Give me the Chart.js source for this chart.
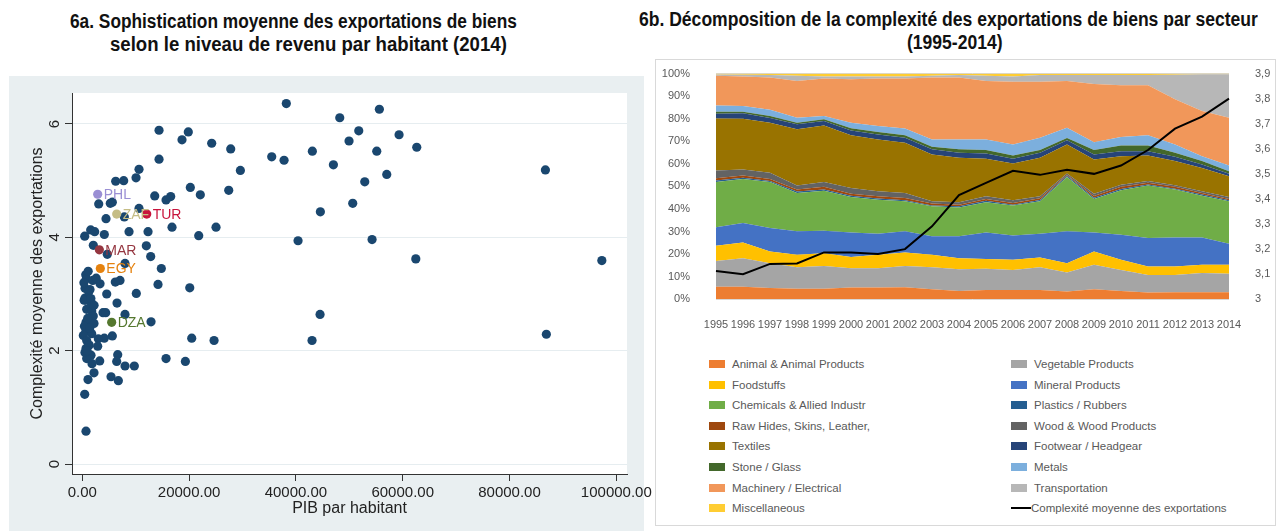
<!DOCTYPE html>
<html>
<head>
<meta charset="utf-8">
<script src="https://cdn.jsdelivr.net/npm/chart.js@4/dist/chart.umd.min.js"></script>
<style>
body{margin:0;width:1276px;height:531px;position:relative;background:#fff;overflow:hidden;font-family:"Liberation Sans",Arial,sans-serif}
.t{position:absolute;white-space:nowrap;font-family:"Liberation Sans Narrow","Arial Narrow","Liberation Sans",Arial,sans-serif;font-weight:bold;font-size:20px;line-height:23px;color:#111;transform-origin:left top}
#panA{position:absolute;left:9px;top:76px;width:635px;height:455px;background:#e9eff1}
#boxB{position:absolute;left:655px;top:59px;width:619px;height:465px;border:1px solid #d9d9d9}
#cA{position:absolute;left:9px;top:76px}
#cB{position:absolute;left:656px;top:60px}
.lg{position:absolute;font-size:11.5px;color:#595959;white-space:nowrap;line-height:14px}
.sw{position:absolute;width:16px;height:8px}
</style>
</head>
<body>
<div id="panA"></div>
<div id="boxB"></div>
<div class="t" id="tA1">6a. Sophistication moyenne des exportations de biens</div>
<div class="t" id="tA2">selon le niveau de revenu par habitant (2014)</div>
<div class="t" id="tB1">6b. Décomposition de la complexité des exportations de biens par secteur</div>
<div class="t" id="tB2">(1995-2014)</div>
<canvas id="cA" width="651" height="455"></canvas>
<canvas id="cB" width="618" height="280"></canvas>
<div id="legend"></div>
<script>
// --- 6a : nuage de points (PIB par habitant, complexité) ---
const gdp = [38200,55630,48210,14370,19850,51770,59320,18670,49950,24230,27790,43080,55140,62630,35470,37780,14370,47020,10620,29600,
  86720,57010,10060,7750,6250,52890,20230,27420,22100,13560,16550,15680,5620,5240,3070,50640,10620,44580,7870,4440,
  16800,25040,1570,2320,8750,12310,4120,450,21800,40400,54260,2060,11990,4680,12810,62450,97290,8000,14800,640,
  750,1950,7060,6180,3320,14180,20120,510,1440,1200,4570,10110,510,690,1570,1630,6500,820,1760,3880,
  4380,8000,44520,2060,12870,690,2190,690,1760,190,5620,4120,20490,3000,24670,43020,820,86900,2880,690,
  1630,6630,820,15680,3260,6440,19300,1820,8000,9740,2190,5380,1070,6750,450,690,340,1000,400,1300,
  500,1600,2200,300,1100,2600,900,1400];
const cplx = [6.36,6.26,6.11,5.89,5.86,5.88,5.81,5.72,5.70,5.66,5.56,5.52,5.52,5.59,5.42,5.36,5.38,5.28,5.20,5.18,
  5.19,5.11,5.05,5.00,4.99,4.98,4.88,4.83,4.75,4.73,4.72,4.66,4.62,4.60,4.59,4.60,4.51,4.45,4.36,4.33,
  4.18,4.18,4.13,4.10,4.10,4.10,4.05,4.02,4.03,3.94,3.96,3.86,3.85,3.70,3.66,3.62,3.59,3.54,3.45,3.34,
  3.27,3.24,3.24,3.21,3.18,3.17,3.11,3.10,3.08,3.04,3.00,3.01,2.93,2.89,2.87,2.86,2.84,2.73,2.70,2.67,
  2.67,2.64,2.64,2.61,2.51,2.50,2.48,2.35,2.30,2.27,2.26,2.22,2.22,2.21,2.18,2.18,2.18,2.29,2.08,2.04,
  1.92,1.93,1.86,1.86,1.82,1.81,1.81,1.77,1.73,1.73,1.61,1.54,1.49,1.47,1.23,0.58,2.89,2.57,2.43,2.10,
  1.97,2.92,2.80,3.20,3.40,3.28,2.00,2.40];
const hlCodes = ['PHL','ZAF','TUR','MAR','EGY','DZA'];
const hlGdp = [2880,6440,12060,3190,3370,5500];
const hlCplx = [4.76,4.41,4.41,3.78,3.45,2.50];
const hlColors = ['#9a8fd4','#c5bd85','#c8143c','#953640','#e5820f','#55782f'];
const xTicksA = [0,20000,40000,60000,80000,100000];
const yTicksA = [0,2,4,6];

// --- 6b : aires empilées par secteur (% des exportations) ---
const years = ['1995','1996','1997','1998','1999','2000','2001','2002','2003','2004','2005','2006','2007','2008','2009','2010','2011','2012','2013','2014'];
const sectorNames = ['Animal & Animal Products','Vegetable Products','Foodstuffs','Mineral Products','Chemicals & Allied Industr','Plastics / Rubbers',
  'Raw Hides, Skins, Leather,','Wood & Wood Products','Textiles','Footwear / Headgear','Stone / Glass','Metals','Machinery / Electrical','Transportation','Miscellaneous'];
const sectorColors = ['#ed7d31','#a5a5a5','#ffc000','#4472c4','#70ad47','#255e91','#9e480e','#636363','#997300','#264478','#43682b','#7cafdd','#f1975a','#b7b7b7','#ffcd33'];
const animal      = [5.6,5.6,5.0,4.7,4.7,5.2,5.2,5.3,4.4,3.7,4.1,4.1,4.1,3.4,4.4,3.7,3.0,3.1,3.1,3.1];
const vegetable   = [11.4,12.6,11.0,9.5,10.1,8.6,8.6,9.5,9.8,9.6,9.4,8.9,10.1,8.5,10.9,9.3,7.8,7.7,8.5,8.2];
const foodstuffs  = [6.7,7.0,5.2,5.5,5.6,4.9,5.9,5.9,5.5,4.9,4.3,4.5,4.3,4.1,5.9,4.5,3.7,3.7,3.7,4.0];
const mineral     = [8.2,8.6,10.4,10.4,10.0,10.9,9.3,9.4,8.2,9.7,11.8,10.8,10.5,14.1,8.4,11.1,12.6,12.9,12.1,9.3];
const chemicals   = [20.1,19.5,20.3,17.0,17.7,15.7,15.1,13.3,13.3,12.8,13.4,13.2,14.4,24.1,14.8,19.7,23.3,21.2,18.5,18.8];
const plastics    = [0.6,0.5,0.5,0.6,0.5,0.6,0.5,0.5,0.3,0.5,0.6,0.4,0.6,0.5,0.6,0.6,0.4,0.4,0.5,0.5];
const rawHides    = [1.0,1.0,0.9,0.9,1.2,0.9,1.0,1.0,0.9,0.7,0.8,0.8,0.7,0.4,0.8,0.9,0.8,0.8,0.7,0.5];
const wood        = [3.4,2.7,2.7,1.8,2.1,2.5,2.3,2.2,1.0,1.1,1.2,1.2,0.9,0.6,1.0,0.9,0.8,0.7,0.8,0.9];
const textiles    = [23.1,22.5,22.2,24.9,25.1,23.3,22.9,22.2,20.7,19.7,16.6,16.2,17.1,12.9,15.1,12.7,11.3,10.7,10.3,9.2];
const footwear    = [2.1,2.4,2.1,2.2,2.0,2.2,2.2,2.3,2.3,2.2,2.4,2.1,2.2,1.8,2.2,2.2,1.9,1.9,1.5,1.1];
const stone       = [0.9,0.7,0.9,0.7,0.7,0.9,1.1,1.0,1.2,1.5,1.5,1.5,1.2,1.0,2.0,2.5,2.5,1.8,1.5,1.1];
const metals      = [2.7,2.5,2.7,2.2,1.5,2.5,2.6,3.0,3.2,4.4,4.7,4.9,5.5,4.6,3.5,3.8,4.5,3.7,2.2,2.6];
const machinery   = [13.2,13.1,14.3,16.3,16.6,19.3,21.1,22.2,27.4,27.4,25.9,27.8,24.7,20.7,25.7,22.9,22.2,20.0,20.0,21.1];
const transport   = [0.6,0.7,1.1,2.3,0.9,1.2,0.9,0.9,0.8,1.1,2.3,2.3,3.0,2.6,4.0,4.5,4.5,10.8,16.3,19.3];
const misc        = [0.4,0.6,0.7,1.0,1.3,1.3,1.3,1.3,1.0,0.7,1.0,1.3,0.7,0.7,0.7,0.7,0.7,0.6,0.3,0.3];
const complexity  = [3.113,3.100,3.141,3.143,3.187,3.187,3.181,3.200,3.291,3.415,3.464,3.512,3.496,3.516,3.500,3.533,3.595,3.680,3.728,3.800];
const lineName = 'Complexité moyenne des exportations';

// titres : on ajuste la largeur au rendu de la police disponible
function placeTitle(id, cx, top, w, kRef){
  const el = document.getElementById(id);
  const real = el.offsetWidth;
  const k = kRef || (w / real);
  el.style.transform = 'scaleX(' + k + ')';
  el.style.left = (cx - real * k / 2) + 'px';
  el.style.top = top + 'px';
  return k;
}
placeTitle('tA1', 293.5, 10, 447);
placeTitle('tA2', 308.5, 33, 397);
const kB = placeTitle('tB1', 948.5, 8, 619);
placeTitle('tB2', 955, 31, 0, kB);

Chart.defaults.font.family = '"Liberation Sans", Arial, sans-serif';
Chart.defaults.animation = false;

const whiteArea = {
  id:'whiteArea',
  beforeDraw(chart){
    const a = chart.chartArea, ctx = chart.ctx;
    ctx.save(); ctx.fillStyle = '#fff';
    ctx.fillRect(a.left, a.top, a.right - a.left, a.bottom - a.top);
    ctx.restore();
  }
};
const rotYTicks = {
  id:'rotYTicks',
  afterDraw(chart){
    const ys = chart.scales.y, ctx = chart.ctx;
    ctx.save();
    ctx.font = '15px "Liberation Sans", Arial, sans-serif';
    ctx.fillStyle = '#222'; ctx.textAlign = 'center'; ctx.textBaseline = 'middle';
    ys.ticks.forEach(t => {
      ctx.save();
      ctx.translate(46, ys.getPixelForValue(t.value));
      ctx.rotate(-Math.PI / 2);
      ctx.fillText(String(t.value), 0, 0);
      ctx.restore();
    });
    ctx.restore();
  }
};
const codeLabels = {
  id:'codeLabels',
  afterDatasetsDraw(chart){
    const ctx = chart.ctx;
    ctx.save();
    ctx.font = '14px "Liberation Sans", Arial, sans-serif';
    ctx.textAlign = 'left'; ctx.textBaseline = 'middle';
    hlCodes.forEach((c, i) => {
      const el = chart.getDatasetMeta(i).data[0];
      ctx.fillStyle = hlColors[i];
      ctx.fillText(c, el.x + 6, el.y + 1);
    });
    ctx.restore();
  }
};

const scatterSets = hlCodes.map((c, i) => ({
  label: c,
  data: [{x: hlGdp[i], y: hlCplx[i]}],
  backgroundColor: hlColors[i], borderWidth: 0, pointRadius: 4.6
}));
scatterSets.push({
  label: 'pays',
  data: gdp.map((g, i) => ({x: g, y: cplx[i]})),
  backgroundColor: '#1a476f', borderWidth: 0, pointRadius: 4.6
});

new Chart(document.getElementById('cA'), {
  type: 'scatter',
  data: {datasets: scatterSets},
  options: {
    responsive: false,
    layout: {padding: {top: 17, right: 33, left: 0, bottom: 0}},
    plugins: {legend: {display: false}, tooltip: {enabled: false}},
    scales: {
      x: {
        type: 'linear', min: -1930, max: 102000,
        afterBuildTicks(s){ s.ticks = xTicksA.map(v => ({value: v})); },
        afterFit(s){ s.height = 57; s.paddingLeft = 0; s.paddingRight = 0; },
        grid: {drawOnChartArea: false, tickColor: '#333', tickLength: 7},
        border: {color: '#333', width: 1},
        ticks: {color: '#222', font: {size: 15}, padding: 3, maxRotation: 0, callback: v => v.toFixed(2)},
        title: {display: true, text: 'PIB par habitant', color: '#222', font: {size: 16}, padding: {top: 0, bottom: 12.4}}
      },
      y: {
        min: -0.176, max: 6.547,
        afterBuildTicks(s){ s.ticks = yTicksA.map(v => ({value: v})); },
        afterFit(s){ s.width = 63; s.paddingTop = 0; s.paddingBottom = 0; },
        grid: {color: '#e6edf0', tickColor: '#333', tickLength: 7},
        border: {color: '#333', width: 1},
        ticks: {color: 'rgba(0,0,0,0)', font: {size: 15}},
        title: {display: true, text: 'Complexité moyenne des exportations', color: '#222', font: {size: 16}, padding: {top: 19.4, bottom: 0}}
      }
    }
  },
  plugins: [whiteArea, rotYTicks, codeLabels]
});

const sectorData = [animal, vegetable, foodstuffs, mineral, chemicals, plastics, rawHides, wood, textiles, footwear, stone, metals, machinery, transport, misc];
const areaSets = sectorData.map((d, i) => ({
  label: sectorNames[i], data: d, yAxisID: 'y',
  backgroundColor: sectorColors[i], borderWidth: 0, pointRadius: 0,
  fill: i === 0 ? 'origin' : '-1', tension: 0
}));
areaSets.push({
  label: lineName, data: complexity, yAxisID: 'y2', order: -1,
  borderColor: '#000', borderWidth: 2, pointRadius: 0, fill: false, tension: 0
});

const comma = v => String(Math.round(v * 10) / 10).replace('.', ',');
new Chart(document.getElementById('cB'), {
  type: 'line',
  data: {labels: years, datasets: areaSets},
  options: {
    responsive: false,
    layout: {padding: {top: 13.5, right: 0, left: 0, bottom: 0}},
    plugins: {legend: {display: false}, tooltip: {enabled: false}},
    scales: {
      x: {
        offset: false,
        grid: {display: false}, border: {display: false},
        afterFit(s){ s.height = 40.7; s.paddingLeft = 0; s.paddingRight = 0; },
        ticks: {autoSkip: false, maxRotation: 0, minRotation: 0, padding: 11, color: '#595959', font: {size: 11}}
      },
      y: {
        stacked: true, min: 0, max: 100,
        afterFit(s){ s.width = 60; s.paddingTop = 0; s.paddingBottom = 0; },
        grid: {color: '#d9d9d9', drawTicks: false}, border: {display: false},
        ticks: {stepSize: 10, padding: 26, color: '#595959', font: {size: 11}, callback: v => v + '%'}
      },
      y2: {
        position: 'right', min: 3, max: 3.9,
        afterFit(s){ s.width = 45; s.paddingTop = 0; s.paddingBottom = 0; },
        grid: {drawOnChartArea: false, drawTicks: false}, border: {display: false},
        ticks: {stepSize: 0.1, padding: 26, color: '#595959', font: {size: 11}, callback: v => comma(v)}
      }
    }
  }
});

// légende sur deux colonnes
const lg = document.getElementById('legend');
const items = sectorNames.map((n, i) => ({name: n, color: sectorColors[i]}));
items.push({name: lineName, line: true});
items.forEach((it, k) => {
  const row = Math.floor(k / 2), col = k % 2;
  const cy = 364 + row * 20.6;
  const sx = col === 0 ? 709 : 1011;
  const sw = document.createElement('div');
  sw.className = 'sw';
  if (it.line) {
    sw.style.cssText = 'left:' + sx + 'px;top:' + (cy - 1) + 'px;width:20px;height:2px;background:#000';
  } else {
    sw.style.cssText = 'left:' + sx + 'px;top:' + (cy - 4) + 'px;background:' + it.color;
  }
  lg.appendChild(sw);
  const tx = document.createElement('div');
  tx.className = 'lg';
  tx.textContent = it.name;
  tx.style.left = (it.line ? 1031 : sx + 23) + 'px';
  tx.style.top = (cy - 7) + 'px';
  lg.appendChild(tx);
});
</script>
</body>
</html>
